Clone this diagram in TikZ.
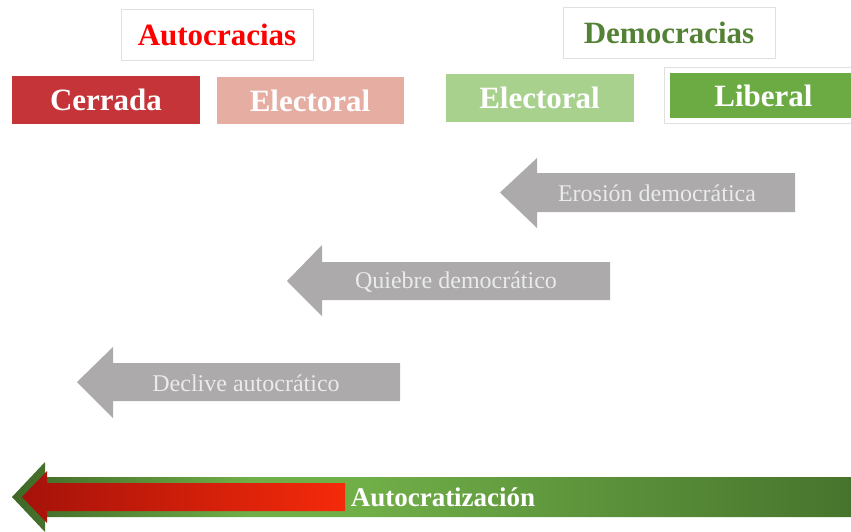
\documentclass[tikz,border=0pt]{standalone}
\usepackage{fontspec}
\setmainfont{Liberation Serif}
\usepackage{xcolor}
\usepackage{tikz}
\definecolor{cerradaRed}{RGB}{196,52,56}
\definecolor{elecPink}{RGB}{230,173,163}
\definecolor{elecGreen}{RGB}{169,209,142}
\definecolor{liberalGreen}{RGB}{108,170,68}
\definecolor{demoGreen}{RGB}{84,130,53}
\definecolor{arrowGray}{RGB}{172,170,170}
\definecolor{labelGray}{RGB}{235,235,235}
\definecolor{darkRed}{RGB}{165,18,10}
\definecolor{brightRed}{RGB}{245,42,10}
\definecolor{darkGreen}{RGB}{70,115,44}
\definecolor{midGreen}{RGB}{112,174,72}
\pgfdeclarehorizontalshading{autocratization}{100bp}{color(0bp)=(darkGreen!90!black); color(25bp)=(darkGreen!90!black); color(39bp)=(midGreen); color(46bp)=(midGreen); color(75bp)=(darkGreen); color(100bp)=(darkGreen)}

\begin{document}
\begin{tikzpicture}[x=1pt,y=-1pt]
\tikzstyle{every node}+=[inner sep=0pt]
\tikzset{
  header/.style={draw=black!12, line width=0.8pt, minimum width=#1, minimum height=51,
    font=\fontsize{31}{31}\selectfont\bfseries},
  regime/.style={fill=#1, text=white, minimum width=187, minimum height=47,
    font=\fontsize{31}{31}\selectfont\bfseries},
  trend/.style={fill=arrowGray},
  trendlabel/.style={text=labelGray, font=\fontsize{24}{24}\selectfont}
}
    \useasboundingbox (0,0) rectangle (851,531);
    \clip (0,0) rectangle (851,531);
    % groups
    \node [header=192, text=red] (autoc) at (217,35) {Autocracias};
    \node [header=212, text=demoGreen] (democ) at (669,33) {Democracias};
    % regimes
    \node [regime=cerradaRed, minimum width=188, minimum height=48] (cerrada) at (106,100) {Cerrada};
    \node [regime=elecPink] (elecA) at (310,100.5) {Electoral};
    \node [regime=elecGreen, minimum width=188, minimum height=48] (elecD) at (539.5,98) {Electoral};
    \node [regime=liberalGreen, minimum height=45] (liberal) at (763.5,95.5) {Liberal};
    \draw [black!12, line width=0.8pt] ([shift={(-5,-5)}]liberal.north west) rectangle ([shift={(5,5)}]liberal.south east);
    % gray arrows
    \fill [trend] (500,192.5) -- (537,158) -- (537,173) -- (795,173) -- (795,212) -- (537,212) -- (537,228) -- cycle;
    \node [trendlabel] (erosion) at (657,193) {Erosión democrática};
    \fill [trend] (287,281) -- (322,245) -- (322,262) -- (610,262) -- (610,300) -- (322,300) -- (322,316) -- cycle;
    \node [trendlabel] (quiebre) at (456,282) {Quiebre democrático};
    \fill [trend] (77,382) -- (113,347) -- (113,363) -- (400,363) -- (400,401) -- (113,401) -- (113,418) -- cycle;
    \node [trendlabel] (declive) at (246,383) {Declive autocrático};
    % autocratization
    \shade [shading=autocratization]
      (12,497) -- (45,462) -- (45,477) -- (860,477) -- (860,517) -- (45,517) -- (45,532) -- cycle;
    \shade [left color=darkRed, right color=brightRed]
      (22,497) -- (47,471) -- (47,483) -- (345,483) -- (345,511) -- (47,511) -- (47,523) -- cycle;
    \node [text=white, font=\fontsize{27}{27}\selectfont\bfseries] (autocrat) at (443,497) {Autocratización};
\end{tikzpicture}
\end{document}
